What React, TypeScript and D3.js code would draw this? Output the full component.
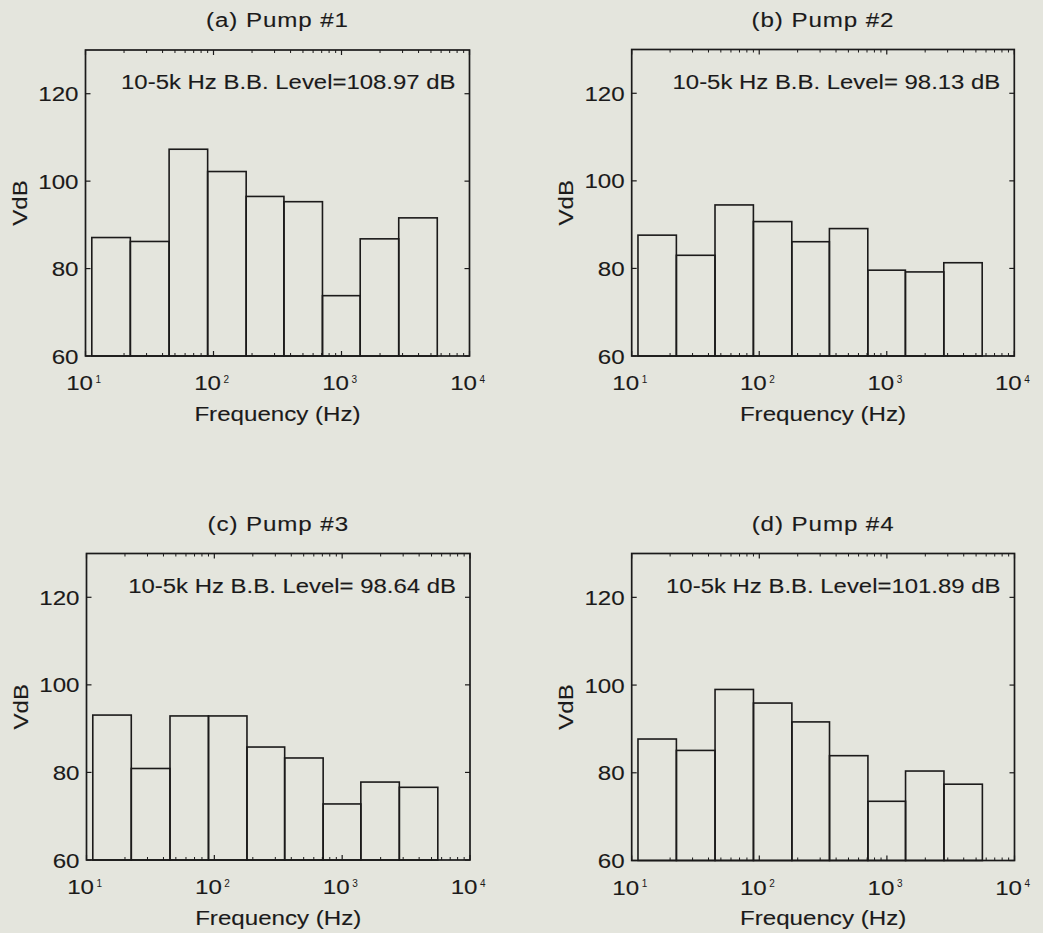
import React from 'react';
import * as d3 from 'd3';

// Octave band edges (Hz)
const bandEdges = [11.2, 22.4, 45, 90, 180, 355, 710, 1400, 2800, 5600];
// Band levels (VdB) per pump
const pump1 = [87.1, 86.2, 107.3, 102.2, 96.5, 95.3, 73.8, 86.8, 91.6];
const pump2 = [87.6, 83.0, 94.5, 90.7, 86.1, 89.1, 79.6, 79.2, 81.3];
const pump3 = [93.1, 80.9, 92.9, 92.9, 85.8, 83.3, 72.8, 77.8, 76.6];
const pump4 = [87.7, 85.1, 99.0, 95.9, 91.6, 83.9, 73.5, 80.4, 77.4];
const titles = ['(a) Pump #1', '(b) Pump #2', '(c) Pump #3', '(d) Pump #4'];
const bbLevels = ['108.97', ' 98.13', ' 98.64', '101.89'];
const yTicks = [60, 80, 100, 120];
const xTicks = [10, 100, 1000, 10000];
const xTickExp = ['1', '2', '3', '4'];
const yDomain = [60, 130];
const xDomain = [10, 10000];

const series = [pump1, pump2, pump3, pump4];

const layout = [
  { x0: 85.5, x1: 469.5, y0: 50, y1: 356 },
  { x0: 631.7, x1: 1014.3, y0: 49.5, y1: 356 },
  { x0: 86.5, x1: 470, y0: 553.5, y1: 860 },
  { x0: 631.7, x1: 1014.5, y0: 553.5, y1: 860.5 },
];

const INK = '#1b1a1a';
const BG = '#e4e5dd';
const FONT = '"Liberation Sans", Arial, Helvetica, sans-serif';
const SX = 1.15;
const FS = 21;
const TXT = { fill: INK, stroke: INK, strokeWidth: 0.12 };

function Panel({ idx }: { idx: number }) {
  const L = layout[idx];
  const data = series[idx];
  const xs = d3.scaleLog().domain(xDomain).range([L.x0, L.x1]);
  const ys = d3.scaleLinear().domain(yDomain).range([L.y1, L.y0]);
  const minor: number[] = [];
  for (let d = 10; d < 10000; d *= 10) {
    for (let k = 2; k <= 9; k++) minor.push(d * k);
  }
  const cx = (L.x0 + L.x1) / 2;
  const cy = (L.y0 + L.y1) / 2;
  const MAJ = 5;
  const MIN = 3;
  return (
    <g>
      {/* bars */}
      {data.map((v, i) => {
        const xa = xs(bandEdges[i]);
        const xb = xs(bandEdges[i + 1]);
        return (
          <rect
            key={i}
            x={xa}
            y={ys(v)}
            width={xb - xa}
            height={ys(yDomain[0]) - ys(v)}
            fill="none"
            stroke={INK}
            strokeWidth={1.6}
          />
        );
      })}
      {/* axes box */}
      <rect x={L.x0} y={L.y0} width={L.x1 - L.x0} height={L.y1 - L.y0} fill="none" stroke={INK} strokeWidth={1.7} />
      {/* x ticks */}
      {xTicks.map((t) => (
        <g key={'xt' + t}>
          <line x1={xs(t)} x2={xs(t)} y1={L.y1} y2={L.y1 - MAJ} stroke={INK} strokeWidth={1.2} />
          <line x1={xs(t)} x2={xs(t)} y1={L.y0} y2={L.y0 + MAJ} stroke={INK} strokeWidth={1.2} />
        </g>
      ))}
      {minor.map((t) => (
        <g key={'xm' + t}>
          <line x1={xs(t)} x2={xs(t)} y1={L.y1} y2={L.y1 - MIN} stroke={INK} strokeWidth={1} />
          <line x1={xs(t)} x2={xs(t)} y1={L.y0} y2={L.y0 + MIN} stroke={INK} strokeWidth={1} />
        </g>
      ))}
      {/* y ticks */}
      {yTicks.map((t) => (
        <g key={'yt' + t}>
          <line x1={L.x0} x2={L.x0 + MAJ} y1={ys(t)} y2={ys(t)} stroke={INK} strokeWidth={1.2} />
          <line x1={L.x1} x2={L.x1 - MAJ} y1={ys(t)} y2={ys(t)} stroke={INK} strokeWidth={1.2} />
          <text
            transform={`translate(${L.x0 - 7},${ys(t) + 7.5}) scale(${SX},1)`}
            textAnchor="end"
            fontSize={FS}
            {...TXT}
          >
            {t}
          </text>
        </g>
      ))}
      {/* x tick labels */}
      {xTicks.map((t, i) => (
        <g key={'xl' + t}>
          <text
            transform={`translate(${xs(t) + 7.5},${L.y1 + 34}) scale(${SX},1)`}
            textAnchor="end"
            fontSize={FS}
            {...TXT}
          >
            10
          </text>
          <text x={xs(t) + 10} y={L.y1 + 26.5} fontSize={10} fill={INK}>
            {xTickExp[i]}
          </text>
        </g>
      ))}
      {/* title */}
      <text
        transform={`translate(${cx},${L.y0 - 23}) scale(${SX},1)`}
        textAnchor="middle"
        fontSize={FS}
        letterSpacing={0.8}
        {...TXT}
      >
        {titles[idx]}
      </text>
      {/* annotation */}
      <text
        transform={`translate(${L.x1 - 14},${L.y0 + 39}) scale(1.14,1)`}
        textAnchor="end"
        fontSize={FS}
        {...TXT}
        style={{ whiteSpace: 'pre' }}
      >
        {`10-5k Hz B.B. Level=${bbLevels[idx]} dB`}
      </text>
      {/* x label */}
      <text
        transform={`translate(${cx},${L.y1 + 64.5}) scale(${SX},1)`}
        textAnchor="middle"
        fontSize={FS}
        {...TXT}
      >
        Frequency (Hz)
      </text>
      {/* y label */}
      <text
        transform={`translate(${L.x0 - 58.5},${cy}) rotate(-90) scale(${SX},1)`}
        textAnchor="middle"
        fontSize={FS}
        {...TXT}
      >
        VdB
      </text>
    </g>
  );
}

export default function App() {
  return (
    <svg
      width={1043}
      height={933}
      viewBox="0 0 1043 933"
      style={{ position: 'absolute', left: 0, top: 0, display: 'block', background: BG }}
      fontFamily={FONT}
    >
      <rect x={0} y={0} width={1043} height={933} fill={BG} />
      {[0, 1, 2, 3].map((i) => (
        <Panel key={i} idx={i} />
      ))}
    </svg>
  );
}
